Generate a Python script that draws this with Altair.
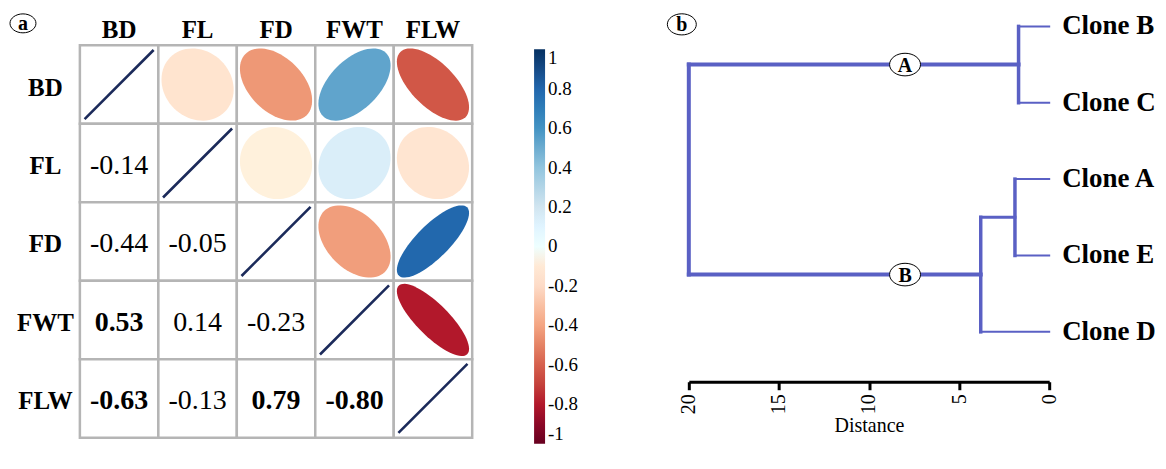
import altair as alt
import numpy as np
import pandas as pd

# ---------------- data: panel (a) correlation matrix ----------------
variables = ["BD", "FL", "FD", "FWT", "FLW"]
# lower-triangle printed coefficients (row, column, value)
lower_rows = ["FL", "FD", "FD", "FWT", "FWT", "FWT", "FLW", "FLW", "FLW", "FLW"]
lower_cols = ["BD", "BD", "FL", "BD", "FL", "FD", "BD", "FL", "FD", "FWT"]
lower_values = [-0.14, -0.44, -0.05, 0.53, 0.14, -0.23, -0.63, -0.13, 0.79, -0.80]
upper_values = [-0.14, -0.44, -0.05, 0.53, 0.14, -0.42, -0.63, -0.13, 0.79, -0.80]

colorbar_ticks = [1, 0.8, 0.6, 0.4, 0.2, 0, -0.2, -0.4, -0.6, -0.8, -1]
corr_domain = [-1, -0.8, -0.6, -0.4, -0.2, 0, 0.2, 0.4, 0.6, 0.8, 1]
corr_colors = ["#67001F", "#B2182B", "#D6604D", "#F4A582", "#FDDBC7", "#FFFFFF",
               "#D1E5F0", "#92C5DE", "#4393C3", "#2166AC", "#053061"]

# ---------------- data: panel (b) dendrogram ----------------
leaves = ["Clone B", "Clone C", "Clone A", "Clone E", "Clone D"]
# merges: (child1, child2, height); children are leaf names or merge ids
merge_children = [("Clone B", "Clone C"), ("Clone A", "Clone E"), ("m1", "Clone D"), ("m0", "m2")]
merge_heights = [1.7, 1.9, 3.8, 20.0]
cluster_labels = ["A", "B"]       # labels on the two main branches
cluster_nodes = ["m0", "m2"]
cluster_label_distance = 8.0
distance_ticks = [0, 5, 10, 15, 20]

FONT = "Liberation Serif"
CELL = 78.6
N = len(variables)

# ---------------- build tables ----------------
def ellipse_path(r, n=72):
    d = np.arccos(r)
    t = np.linspace(0, 2 * np.pi, n, endpoint=False)
    xs = np.cos(t + d / 2)
    ys = -np.cos(t - d / 2)
    return "M" + "L".join(f"{x:.4f},{y:.4f}" for x, y in zip(xs, ys)) + "Z"

cells = pd.DataFrame([{"row": r, "col": c} for r in variables for c in variables])

lower = pd.DataFrame({"row": lower_rows, "col": lower_cols, "r": lower_values})
lower["label"] = [f"{v:.2f}" for v in lower_values]
lower["bold"] = [abs(v) >= 0.5 for v in lower_values]

upper = pd.DataFrame({"row": lower_cols, "col": lower_rows, "r": upper_values})
upper["path"] = [ellipse_path(v) for v in upper_values]

diag = pd.DataFrame({"row": variables, "col": variables})

xa = alt.X("col:N", sort=variables, scale=alt.Scale(paddingInner=0, paddingOuter=0),
           axis=alt.Axis(orient="top", title=None, ticks=False, tickSize=0, domain=False,
                         labelAngle=0, labelFont=FONT, labelFontSize=25, labelFontWeight="bold",
                         labelColor="black", labelPadding=8, labelBaseline="alphabetic"))
ya = alt.Y("row:N", sort=variables, scale=alt.Scale(paddingInner=0, paddingOuter=0),
           axis=alt.Axis(title=None, ticks=False, tickSize=0, domain=False,
                         labelFont=FONT, labelFontSize=25, labelFontWeight="bold",
                         labelColor="black", labelPadding=35, labelAlign="center",
                         labelBaseline="middle", labelOffset=3))

rects = alt.Chart(cells).mark_rect(fill="white", stroke="#b5b5b5", strokeWidth=2.5).encode(x=xa, y=ya)

ellipses = alt.Chart(upper).mark_point(filled=True, opacity=1, size=(0.92 * CELL) ** 2, strokeWidth=0).encode(
    x=alt.X("col:N", sort=variables),
    y=alt.Y("row:N", sort=variables),
    shape=alt.Shape("path:N", scale=None),
    color=alt.Color("r:Q",
                    scale=alt.Scale(domain=corr_domain, range=corr_colors),
                    legend=alt.Legend(orient="none", legendX=455, legendY=4, direction="vertical",
                                      gradientLength=395, gradientThickness=11, title=None,
                                      values=colorbar_ticks, labelFont=FONT, labelFontSize=19,
                                      labelColor="black", labelOffset=3, gradientStrokeWidth=0,
                                      labelExpr="replace(format(datum.value, '.1~f'), '\u2212', '-')")),
)

diag_lines = alt.Chart(diag).mark_point(shape="M-1,1L1,-1", filled=False, opacity=1,
                                        color="#1b2a5a", strokeWidth=2.6,
                                        size=(0.88 * CELL) ** 2).encode(
    x=alt.X("col:N", sort=variables), y=alt.Y("row:N", sort=variables))

text_norm = alt.Chart(lower).transform_filter("!datum.bold").mark_text(
    font=FONT, fontSize=28, color="black", baseline="middle", dy=3).encode(
    x=alt.X("col:N", sort=variables), y=alt.Y("row:N", sort=variables), text="label:N")
text_bold = alt.Chart(lower).transform_filter("datum.bold").mark_text(
    font=FONT, fontSize=28, fontWeight="bold", color="black", baseline="middle", dy=3).encode(
    x=alt.X("col:N", sort=variables), y=alt.Y("row:N", sort=variables), text="label:N")

ELL = "M-1,0A1,0.73,0,1,1,1,0A1,0.73,0,1,1,-1,0Z"
tag_a_bg = alt.Chart(pd.DataFrame({"t": ["a"]})).mark_point(
    shape=ELL, size=26 ** 2, filled=True, fill="white", stroke="black", strokeWidth=1, opacity=1
).encode(x=alt.value(-57), y=alt.value(-22))
tag_a = alt.Chart(pd.DataFrame({"t": ["a"]})).mark_text(
    font=FONT, fontSize=20, fontWeight="bold", color="black", baseline="middle", dy=1
).encode(x=alt.value(-57), y=alt.value(-22), text="t:N")

panel_a = alt.layer(rects, ellipses, diag_lines, text_norm, text_bold, tag_a_bg, tag_a).properties(
    width=N * CELL, height=N * CELL)

# ---------------- dendrogram geometry from merges ----------------
pos = {leaf: float(i) for i, leaf in enumerate(leaves)}
hgt = {leaf: 0.0 for leaf in leaves}
segs = []
for k, ((c1, c2), h) in enumerate(zip(merge_children, merge_heights)):
    mid = f"m{k}"
    for c in (c1, c2):
        segs.append({"x": hgt[c], "x2": h, "y": pos[c], "y2": pos[c],
                     "w": 2.0 if c in leaves else (4.0 if k == len(merge_heights) - 1 else 3.0)})
    segs.append({"x": h, "x2": h, "y": min(pos[c1], pos[c2]), "y2": max(pos[c1], pos[c2]),
                 "w": 4.0 if k == len(merge_heights) - 1 else 3.5})
    pos[mid] = (pos[c1] + pos[c2]) / 2
    hgt[mid] = h
seg_df = pd.DataFrame(segs)

leaf_df = pd.DataFrame({"leaf": leaves, "y": [pos[l] for l in leaves], "x": [0.0] * len(leaves)})
node_df = pd.DataFrame({"lab": cluster_labels, "y": [pos[n] for n in cluster_nodes],
                        "x": [cluster_label_distance] * len(cluster_labels)})

xscale = alt.Scale(domain=[0, 20], reverse=True, nice=False, zero=True)
yscale = alt.Scale(domain=[0.248, 4.653], reverse=True, nice=False, zero=False)
xaxis = alt.Axis(values=distance_ticks, title="Distance", format="d", labelAngle=270,
                 labelFont=FONT, labelFontSize=20, labelColor="black", labelPadding=4,
                 domainColor="black", domainWidth=2.8, tickColor="black", tickWidth=3, tickSize=8,
                 grid=False, titleFont=FONT, titleFontSize=20, titleFontWeight="normal",
                 titleColor="black", titlePadding=2)

LINE = "#5a60c4"
tree = alt.Chart(seg_df).mark_rule(color=LINE, strokeCap="square").encode(
    x=alt.X("x:Q", scale=xscale, axis=xaxis), x2="x2:Q",
    y=alt.Y("y:Q", scale=yscale, axis=None), y2="y2:Q",
    strokeWidth=alt.StrokeWidth("w:Q", scale=None))

leaf_text = alt.Chart(leaf_df).mark_text(font=FONT, fontSize=27, fontWeight="bold", color="black",
                                          align="left", baseline="middle", dx=13, dy=0).encode(
    x=alt.X("x:Q", scale=xscale), y=alt.Y("y:Q", scale=yscale), text="leaf:N")

node_bg = alt.Chart(node_df).mark_point(shape=ELL, size=31 ** 2, filled=True, fill="white",
                                         stroke="black", strokeWidth=1, opacity=1).encode(
    x=alt.X("x:Q", scale=xscale), y=alt.Y("y:Q", scale=yscale))
node_text = alt.Chart(node_df).mark_text(font=FONT, fontSize=20, fontWeight="bold", color="black",
                                          baseline="middle", dy=1).encode(
    x=alt.X("x:Q", scale=xscale), y=alt.Y("y:Q", scale=yscale), text="lab:N")

tag_b_bg = alt.Chart(pd.DataFrame({"t": ["b"]})).mark_point(
    shape=ELL, size=29 ** 2, filled=True, fill="white", stroke="black", strokeWidth=1, opacity=1
).encode(x=alt.value(-7), y=alt.value(-21))
tag_b = alt.Chart(pd.DataFrame({"t": ["b"]})).mark_text(
    font=FONT, fontSize=20, fontWeight="bold", color="black", baseline="middle", dy=1
).encode(x=alt.value(-7), y=alt.value(-21), text="t:N")

panel_b = alt.layer(tree, leaf_text, node_bg, node_text, tag_b_bg, tag_b).properties(width=361, height=337)

chart = alt.hconcat(panel_a, panel_b, spacing=217, bounds="flush").resolve_scale(
    color="independent", x="independent", y="independent", shape="independent"
).properties(padding={"left": 0, "top": 3, "right": 2, "bottom": 5}).configure_view(stroke=None)

chart.save("out.html", embed_options={"renderer": "svg", "actions": False})
